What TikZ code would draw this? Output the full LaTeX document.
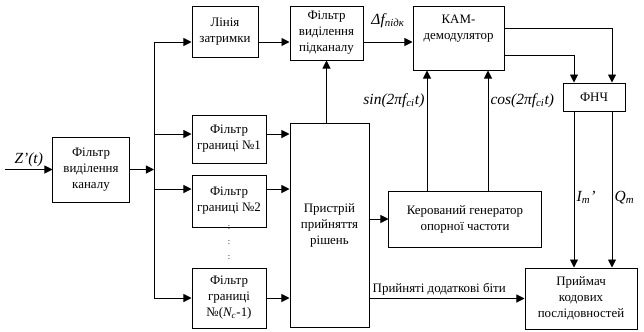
\documentclass[tikz,border=0pt]{standalone}
\usepackage{fontspec}
\setmainfont{Liberation Serif}
\usetikzlibrary{arrows.meta}
\tikzset{
  blok/.style={rectangle, draw=black, line width=0.7pt, align=center, inner sep=0pt,
               font=\fontsize{9.2}{11.4}\selectfont},
  arr/.style={-{Triangle[length=2mm,width=2mm]}, line width=0.7pt},
  lin/.style={line width=0.7pt},
  lbl/.style={font=\fontsize{11}{13}\selectfont\itshape, inner sep=1.5pt},
  txt/.style={font=\fontsize{9.2}{11.4}\selectfont, inner sep=2pt},
}

\begin{document}
\begin{tikzpicture}[x=0.025cm, y=-0.025cm]
  \useasboundingbox (0,0) rectangle (644,331);
  % blocks
  \node[blok, minimum width=1.9cm, minimum height=1.625cm] (chan) at (91,169.5) {Фільтр\\виділення\\каналу};
  \node[blok, minimum width=1.65cm, minimum height=1.275cm] (delay) at (225,31.5) {Лінія\\затримки};
  \node[blok, minimum width=1.825cm, minimum height=1.35cm] (subf) at (326.5,33) {Фільтр\\виділення\\підканалу};
  \node[blok, minimum width=2.275cm, minimum height=1.6cm] (kam) at (458.5,38) {КАМ-\\демодулятор\\[4pt]};
  \node[blok, minimum width=1.55cm, minimum height=0.7cm] (fnch) at (594,97) {ФНЧ};
  \node[blok, minimum width=1.85cm, minimum height=1.2cm] (f1) at (229,139) {Фільтр\\границі №1};
  \node[blok, minimum width=1.85cm, minimum height=1.3cm] (f2) at (229,201) {Фільтр\\границі №2};
  \node[blok, minimum width=1.85cm, minimum height=1.5cm] (fN) at (229,298) {Фільтр\\границі\\№(\textit{N\textsubscript{c}}-1)};
  \node[blok, minimum width=1.975cm, minimum height=5.075cm] (dec) at (329.5,225.5) {Пристрій\\прийняття\\рішень};
  \node[blok, minimum width=3.8cm, minimum height=1.4cm] (gen) at (465,219) {Керований генератор\\опорної частоти};
  \node[blok, minimum width=2.8cm, minimum height=1.525cm] (rcv) at (581,298.5) {Приймач\\кодових\\послідовностей};
  \node[blok, draw=none, font=\fontsize{6}{10.7}\selectfont] (vdots) at (229,243) {:\\:\\:};

  % input and distribution bus
  \coordinate (zin) at (5,169.5);
  \coordinate (btop) at (154,42);
  \coordinate (b1) at (154,134);
  \coordinate (b2) at (154,189);
  \coordinate (bN) at (154,298);
  \draw[arr] (zin) -- (chan.west) node[lbl, midway, above] {Z’(t)};
  \draw[arr] (chan.east) -- (chan.east -| btop);
  \draw[lin] (btop) -- (bN);
  \draw[arr] (btop) -- (btop -| delay.west);
  \draw[arr] (b1) -- (b1 -| f1.west);
  \draw[arr] (b2) -- (b2 -| f2.west);
  \draw[arr] (bN) -- (bN -| fN.west);
  \draw[arr] (b1 -| f1.east) -- (b1 -| dec.west);
  \draw[arr] (b2 -| f2.east) -- (b2 -| dec.west);
  \draw[arr] (bN -| fN.east) -- (bN -| dec.west);

  % subchannel path
  \draw[arr] (delay.east |- btop) -- (subf.west |- btop);
  \draw[arr] (subf.east |- btop) -- (kam.west |- btop)
    node[lbl, midway, above=0.3cm] {Δf\textsubscript{підк}};
  \draw[arr] (subf.south |- dec.north) -- (subf.south);

  % demodulator outputs
  \coordinate (iq) at (574,0);
  \coordinate (qq) at (612,0);
  \draw[arr] ([yshift=0.25cm]kam.east) -| (qq |- fnch.north);
  \draw[arr] ([yshift=-0.425cm]kam.east) -| (iq |- fnch.north);
  \draw[arr] (iq |- fnch.south) -- (iq |- rcv.north) node[lbl, pos=0.55, right] {I\textsubscript{m}’};
  \draw[arr] (qq |- fnch.south) -- (qq |- rcv.north) node[lbl, pos=0.55, right] {Q\textsubscript{m}};

  % reference generator
  \coordinate (sx) at (427,0);
  \coordinate (cx) at (488,0);
  \draw[arr] (dec.east |- gen.west) -- (gen.west);
  \draw[arr] (sx |- gen.north) -- (sx |- kam.south) node[lbl, pos=0.75, left] {sin(2πf\textsubscript{ci}t)};
  \draw[arr] (cx |- gen.north) -- (cx |- kam.south) node[lbl, pos=0.75, right] {cos(2πf\textsubscript{ci}t)};

  % extra bits
  \draw[arr] (dec.east |- rcv.west) -- (rcv.west)
    node[txt, pos=0.45, above] {Прийняті додаткові біти};
\end{tikzpicture}
\end{document}
